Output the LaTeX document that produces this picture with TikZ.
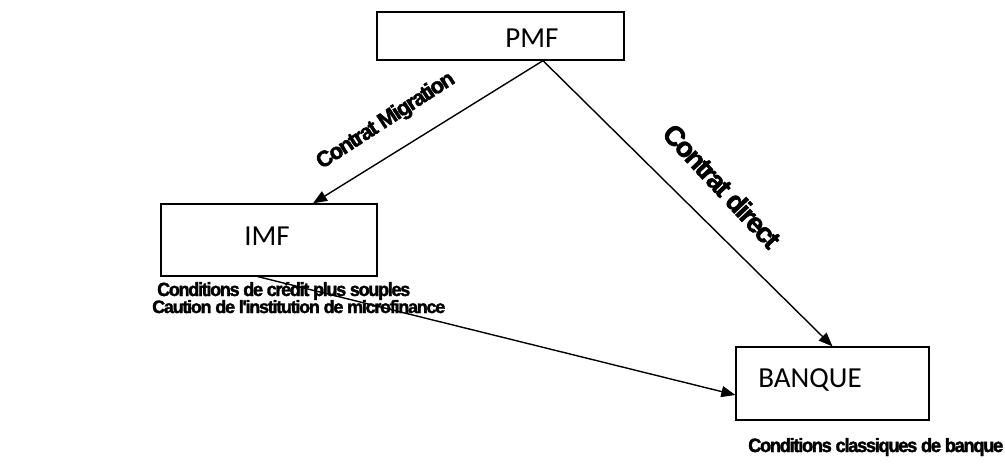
\documentclass[tikz,border=0pt]{standalone}
\usepackage{fontspec}
\setmainfont{Carlito}
\newfontfamily\lblfont[FakeBold=2,LetterSpace=-7]{Liberation Sans Bold}
\usetikzlibrary{arrows.meta}
\tikzset{
  boxnode/.style={draw, line width=1.3pt, inner sep=0pt},
  boxtext/.style={inner sep=0pt, font=\fontsize{29}{32}\selectfont},
  conn/.style={line width=1.4pt, -{Triangle[length=14pt,width=11pt]}},
  lbl/.style={inner sep=0pt, font=\lblfont},
}
\newcommand\fitwh[3]{\resizebox{#1pt}{#2pt}{\fontsize{18}{18}\selectfont #3}}
\begin{document}
\begin{tikzpicture}[x=1pt,y=-1pt]
\useasboundingbox (0,0) rectangle (1005,467);
% boxes
\node[boxnode, minimum width=247pt, minimum height=48pt] (pmf) at (500.5,36) {};
\node[boxnode, minimum width=216pt, minimum height=72pt] (imf) at (269,240) {};
\node[boxnode, minimum width=193pt, minimum height=73pt] (banque) at (832.5,383.5) {};
% box texts
\node[boxtext] (tpmf) at (532,38) {PMF};
\node[boxtext] (timf) at (267,236) {IMF};
\node[boxtext] (tbanque) at (810,380) {BANQUE};
% connector ends
\coordinate (pmfout) at ([xshift=42.5pt]pmf.south);
\coordinate (imfin) at ([xshift=44pt]imf.north);
\coordinate (imfout) at ([xshift=-11pt]imf.south);
\coordinate (banin) at ([yshift=-11.5pt]banque.west);
% connectors
\draw[conn] (pmfout) -- (imfin);
\draw[conn] (pmfout) -- (banque.north);
\draw[conn] (imfout) -- (banin);
% labels
\node[lbl, rotate=33] (lmig) at (386,121) {\fitwh{160}{16}{Contrat Migration}};
\node[lbl, rotate=-47] (ldir) at (722,186) {\fitwh{158}{20}{Contrat direct}};
\node[lbl, anchor=base west] (lcond) at (157,296) {\fitwh{253}{14}{Conditions de crédit plus souples}};
\node[lbl, anchor=base west] (lcaut) at (152,313) {\fitwh{293}{13}{Caution de l'institution de microfinance}};
\node[lbl, anchor=base west] (lclass) at (748,452) {\fitwh{255}{14}{Conditions classiques de banque}};
\end{tikzpicture}
\end{document}
